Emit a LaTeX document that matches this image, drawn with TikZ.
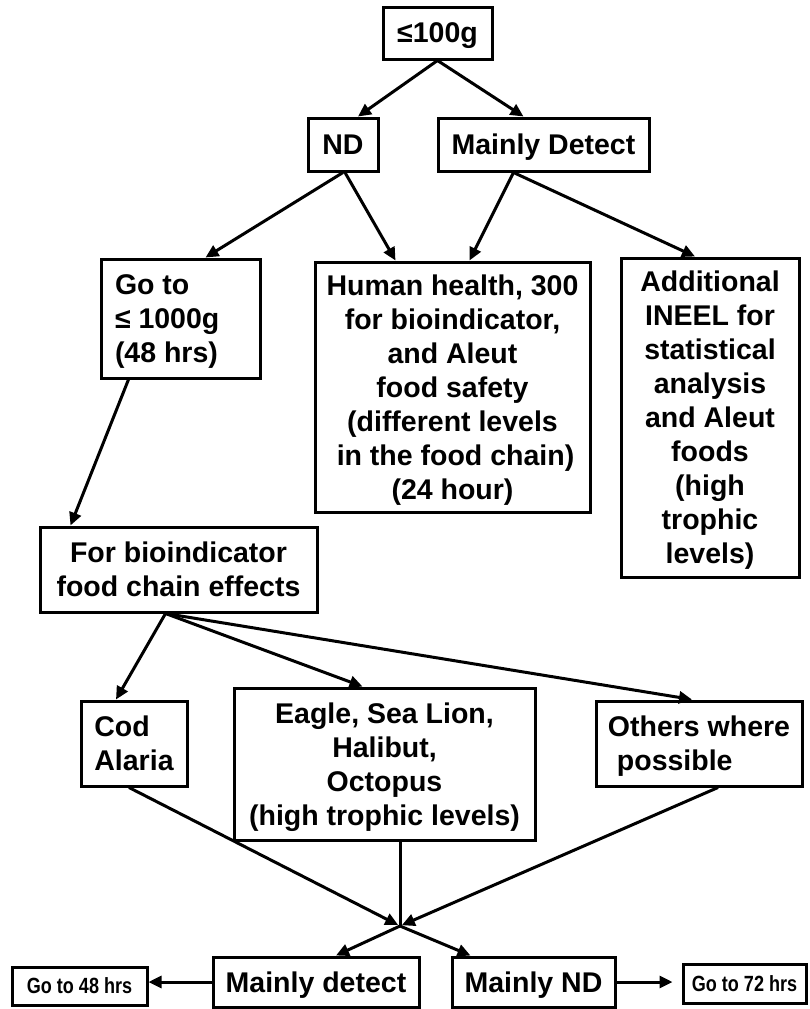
\documentclass[tikz,border=0pt]{standalone}
\usepackage{fontspec}
\setmainfont{Liberation Sans}
\usetikzlibrary{arrows.meta}
\begin{document}
\begin{tikzpicture}[x=1pt,y=-1pt,
  box/.style={draw, line width=3pt, inner sep=0pt, align=center, text depth=-1pt,
    font=\bfseries\fontsize{28.5}{34}\selectfont},
  lbox/.style={box, align=left},
  sbox/.style={draw, line width=3pt, inner sep=0pt, text depth=-1pt,
    font=\bfseries\fontsize{22}{26}\selectfont},
  arr/.style={line width=3pt, -{Triangle[length=13pt,width=12pt]}},
  ln/.style={line width=3pt}]
\useasboundingbox (0,0) rectangle (810,1009);

% nodes
\node[box, minimum width=109pt, minimum height=52pt] (top) at (437.5,33) {≤100g};
\node[box, minimum width=70pt, minimum height=53pt] (nd) at (343,144.5) {ND};
\node[box, minimum width=211pt, minimum height=53pt] (md) at (543.5,144.5) {Mainly Detect};
\node[lbox, minimum width=159pt, minimum height=119pt] (goto) at (180.5,318.5)
  {\makebox[131pt][l]{Go to}\\≤ 1000g\\(48 hrs)};
\node[box, minimum width=275pt, minimum height=250pt] (hh) at (452.5,387)
  {Human health, 300\\for bioindicator,\\and Aleut\\food safety\\(different levels\\\hspace{6pt}in the food chain)\\(24 hour)};
\node[box, minimum width=178pt, minimum height=319pt] (add) at (710,417.5)
  {Additional\\INEEL for\\statistical\\analysis\\and Aleut\\foods\\(high\\trophic\\levels)};
\node[box, minimum width=277pt, minimum height=85pt] (bio) at (178.5,569.5)
  {For bioindicator\\food chain effects};
\node[lbox, minimum width=106pt, minimum height=85pt] (cod) at (134,743.5)
  {Cod\\Alaria};
\node[box, minimum width=301pt, minimum height=152pt, text depth=-6pt] (eagle) at (384.5,764)
  {Eagle, Sea Lion,\\Halibut,\\Octopus\\(high trophic levels)};
\node[lbox, minimum width=206pt, minimum height=85pt] (others) at (699,743.5)
  {Others where\\\hspace{9pt}possible};
\node[box, minimum width=206pt, minimum height=50pt] (mdet) at (316,982) {Mainly detect};
\node[box, minimum width=163pt, minimum height=50pt] (mnd) at (533.5,982) {Mainly ND};
\node[sbox, minimum width=135pt, minimum height=38pt] (g48) at (79.5,986)
  {\scalebox{0.82}[1]{Go to 48 hrs}};
\node[sbox, minimum width=123pt, minimum height=39pt] (g72) at (744.5,983.5)
  {\scalebox{0.82}[1]{Go to 72 hrs}};
\coordinate (m) at (400,926);

% connectors
\draw[arr] (top.south) -- ([xshift=15pt]nd.north);
\draw[arr] (top.south) -- ([xshift=-20pt]md.north);
\draw[arr] (nd.south) -- ([xshift=25pt]goto.north);
\draw[arr] ([xshift=2pt]nd.south) -- ([xshift=-57pt]hh.north);
\draw[arr] ([xshift=-30pt]md.south) -- ([xshift=17pt]hh.north);
\draw[arr] ([xshift=-30pt]md.south) -- ([xshift=-15pt]add.north);
\draw[arr] ([xshift=-52pt]goto.south) -- ([xshift=-108pt]bio.north);
\draw[arr] ([xshift=-13pt]bio.south) -- ([xshift=-18pt]cod.north);
\draw[arr] ([xshift=-13pt]bio.south) -- ([xshift=-22pt]eagle.north);
\draw[arr] ([xshift=-13pt]bio.south) -- ([xshift=-7pt]others.north);
\draw[arr, shorten >=2pt] ([xshift=-5pt]cod.south) -- (m);
\draw[arr, shorten >=2pt] ([xshift=19pt]others.south) -- (m);
\draw[ln] (m |- eagle.south) -- (m);
\draw[arr] (m) -- ([xshift=20pt]mdet.north);
\draw[arr] (m) -- ([xshift=-63pt]mnd.north);
\draw[arr] (mdet.west) -- (mdet.west -| g48.east);
\draw[arr, shorten >=9pt] (mnd.east) -- (mnd.east -| g72.west);
\end{tikzpicture}
\end{document}
